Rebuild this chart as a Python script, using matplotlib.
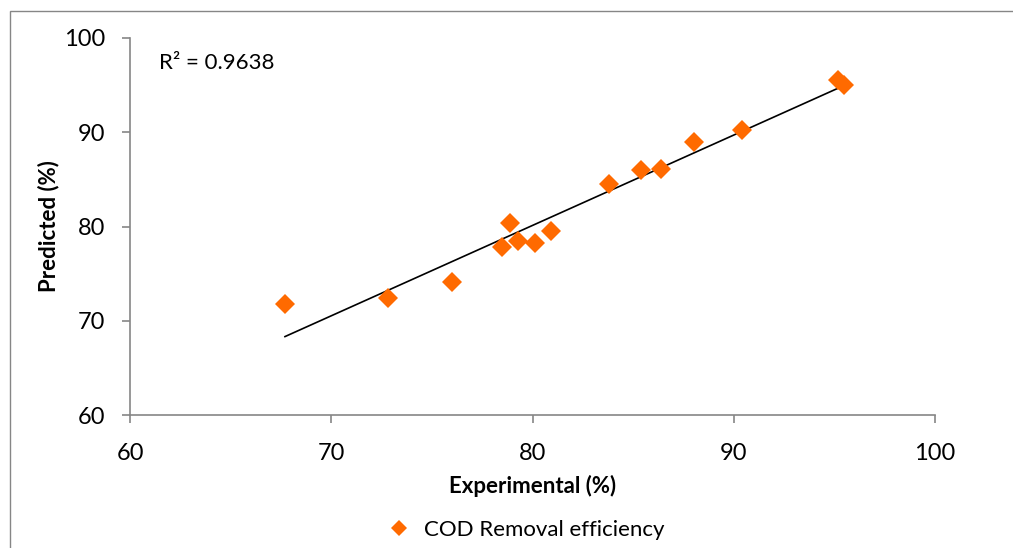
import matplotlib
matplotlib.use("Agg")
import matplotlib.pyplot as plt
import numpy as np
from matplotlib.patches import Rectangle
from matplotlib.lines import Line2D

plt.rcParams.update({
    'font.family': ['Lato', 'DejaVu Sans'],
    'font.size': 16,
})

# experimental vs predicted COD removal (%)
experimental = [67.7, 72.8, 76.0, 78.5, 78.9, 79.3, 80.1, 80.9,
                83.8, 85.4, 86.4, 88.0, 90.4, 95.2, 95.5]
predicted = [71.8, 72.4, 74.1, 77.8, 80.4, 78.5, 78.2, 79.5,
             84.5, 86.0, 86.1, 89.0, 90.2, 95.5, 95.0]
r2_label = "R² = 0.9638"
series_name = "COD Removal efficiency"

ORANGE = '#FF6A00'
AXIS_GREY = '#868686'

fig = plt.figure(figsize=(10.13, 5.48), dpi=100)
# chart border like an Excel chart area
fig.patches.append(Rectangle((10 / 1013, -0.05), 1.2, 1 - 11 / 548 + 0.05,
                             transform=fig.transFigure, fill=False,
                             edgecolor=AXIS_GREY, linewidth=1.0))

ax = fig.add_axes([130 / 1013, 1 - 415 / 548, 805 / 1013, 377 / 548])

x = np.array(experimental)
y = np.array(predicted)
ax.plot(x, y, 'D', color=ORANGE, markersize=10, markeredgewidth=0, zorder=3)

slope, intercept = np.polyfit(x, y, 1)
xl = np.array([x.min(), x.max()])
ax.plot(xl, slope * xl + intercept, color='black', linewidth=1.2, zorder=2)

ax.set_xlim(60, 100)
ax.set_ylim(60, 100)
ax.set_xticks(range(60, 101, 10))
ax.set_yticks(range(60, 101, 10))

for side in ('top', 'right'):
    ax.spines[side].set_visible(False)
for side in ('left', 'bottom'):
    ax.spines[side].set_color(AXIS_GREY)
    ax.spines[side].set_linewidth(1.2)
ax.tick_params(direction='out', length=6, width=1.2, color=AXIS_GREY,
               labelsize=17)
ax.tick_params(axis='x', pad=14)
ax.tick_params(axis='y', pad=12)

ax.set_xlabel("Experimental (%)", fontweight='bold', fontsize=16, labelpad=8)
ax.set_ylabel("Predicted (%)", fontweight='bold', fontsize=16, labelpad=3)

ax.text(0.036, 0.935, r2_label, transform=ax.transAxes, fontsize=16,
        va='center', ha='left')

handle = Line2D([], [], marker='D', color=ORANGE, linestyle='none',
                markersize=8, markeredgewidth=0)
fig.legend([handle], [series_name], loc='center', bbox_to_anchor=(0.514, 1 - 530 / 548),
           frameon=False, fontsize=16, handletextpad=0.1, borderaxespad=0)

fig.savefig("out.png", dpi=100)
